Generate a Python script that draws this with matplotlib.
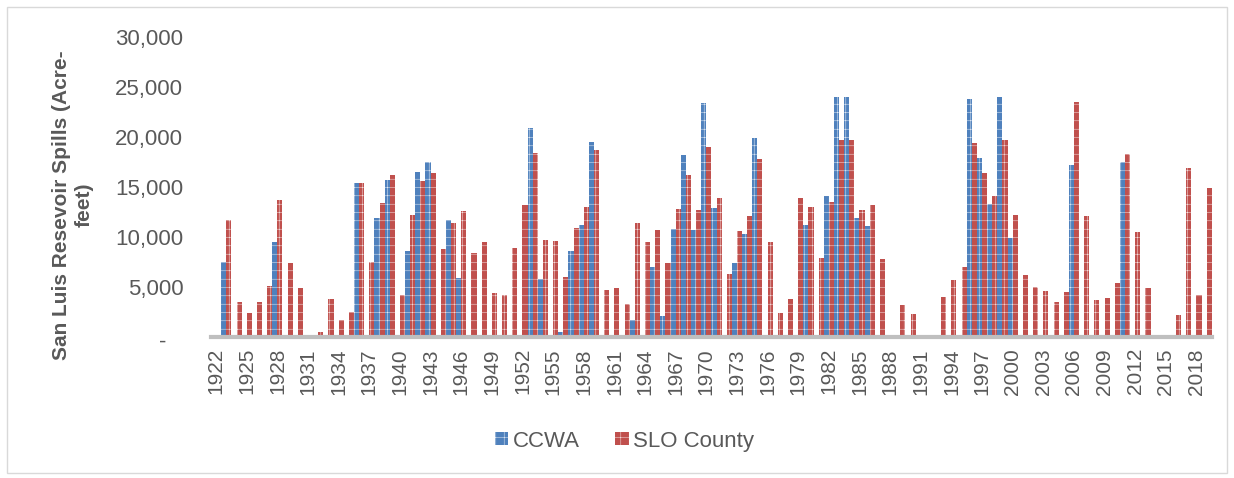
"""
San Luis Reservoir spills by year - CCWA vs SLO County
"""
import matplotlib.pyplot as plt
import matplotlib.patches as mpatches
import matplotlib.transforms as mtransforms
import numpy as np

plt.rcParams['font.family'] = ['Liberation Sans', 'DejaVu Sans']
plt.rcParams['hatch.linewidth'] = 0.3

# data (acre-feet), water years 1922-2019
years = list(range(1922, 2020))

ccwa = [
    0, 7500, 0, 0, 0, 0, 9500, 0, 0, 0,                      # 1922-1931
    0, 0, 0, 0, 15400, 0, 11900, 15700, 0, 8600,              # 1932-1941
    16500, 17500, 0, 11700, 5900, 0, 0, 0, 0, 0,              # 1942-1951
    0, 20900, 5800, 0, 470, 8600, 11200, 19500, 0, 0,         # 1952-1961
    0, 1700, 0, 7000, 2100, 10800, 18200, 10700, 23400, 12900,  # 1962-1971
    0, 7400, 10300, 19900, 0, 0, 0, 0, 11200, 0,              # 1972-1981
    14100, 24000, 24000, 11900, 11100, 0, 0, 0, 0, 0,         # 1982-1991
    0, 0, 0, 0, 23800, 17900, 13300, 24000, 9900, 0,          # 1992-2001
    0, 0, 0, 0, 17200, 0, 0, 0, 0, 17500,                     # 2002-2011
    0, 0, 0, 0, 0, 0, 0, 0,                                   # 2012-2019
]

slo_county = [
    0, 11700, 3500, 2400, 3500, 5100, 13700, 7400, 4900, 0,   # 1922-1931
    470, 3800, 1700, 2500, 15400, 7500, 13400, 16200, 4200, 12200,  # 1932-1941
    15600, 16400, 8800, 11400, 12600, 8400, 9500, 4400, 4200, 8900,  # 1942-1951
    13200, 18400, 9700, 9600, 6000, 10900, 13000, 18700, 4700, 4900,  # 1952-1961
    3300, 11400, 9500, 10700, 7400, 12800, 16200, 12700, 19000, 13900,  # 1962-1971
    6300, 10600, 12100, 17800, 9500, 2400, 3800, 13900, 13000, 7900,  # 1972-1981
    13500, 19700, 19700, 12700, 13200, 7800, 0, 3200, 2300, 0,  # 1982-1991
    0, 4000, 5700, 7000, 19400, 16400, 14100, 19700, 12200, 6200,  # 1992-2001
    5000, 4600, 3500, 4500, 23500, 12100, 3700, 3900, 5400, 18300,  # 2002-2011
    10500, 4900, 0, 0, 2200, 16900, 4200, 14900,              # 2012-2019
]

series_names = ['CCWA', 'SLO County']
series_colors = ['#4F81BD', '#C0504D']
y_ticks = [0, 5000, 10000, 15000, 20000, 25000, 30000]

fig = plt.figure(figsize=(12.34, 4.78), dpi=100)
ax = fig.add_axes([0.171, 0.295, 0.811, 0.628])

# outer chart border
fig.patches.append(mpatches.Rectangle((0.006, 0.01), 0.988, 0.975,
                                      transform=fig.transFigure, fill=False,
                                      edgecolor='#D9D9D9', linewidth=1))

x = np.arange(len(years))
w = 0.5
for k, (vals, color) in enumerate(zip([ccwa, slo_county], series_colors)):
    ax.bar(x + (k - 0.5) * w, vals, width=w, color=color,
           edgecolor='white', linewidth=0, hatch='++')

# axes styling
ax.set_xlim(-0.5, len(years) - 0.5)
ax.set_ylim(0, 30000)
for side in ['top', 'right', 'left']:
    ax.spines[side].set_visible(False)
ax.spines['bottom'].set_color('#BFBFBF')
ax.spines['bottom'].set_linewidth(3)

ax.set_yticks(y_ticks, [f'{v:,}' if v else '-' for v in y_ticks])
ax.tick_params(axis='y', length=0, pad=20, labelsize=16, labelcolor='#595959')
# zero shown as dash like excel accounting format
offset = mtransforms.ScaledTranslation(-12 / 72, -2 / 72, fig.dpi_scale_trans)
for lbl in ax.get_yticklabels():
    if lbl.get_text() == '-':
        lbl.set_transform(lbl.get_transform() + offset)

tick_idx = x[::3]
ax.set_xticks(tick_idx, [str(years[i]) for i in tick_idx], rotation=90)
ax.tick_params(axis='x', length=0, pad=8, labelsize=15, labelcolor='#595959')

ax.set_ylabel('San Luis Resevoir Spills (Acre-\nfeet)', fontsize=15,
              fontweight='bold', color='#595959', linespacing=1.25)
ax.yaxis.set_label_coords(-0.117, 0.44)

# legend
handles = [mpatches.Patch(facecolor=c, edgecolor='white', linewidth=0,
                          hatch='++', label=n)
           for n, c in zip(series_names, series_colors)]
fig.legend(handles=handles, loc='center', bbox_to_anchor=(0.506, 0.077),
           ncol=2, frameon=False, fontsize=16, handlelength=0.6,
           handleheight=0.5, handletextpad=0.2, columnspacing=1.6,
           labelcolor='#595959')

plt.savefig('out.png', dpi=100)
plt.close()
